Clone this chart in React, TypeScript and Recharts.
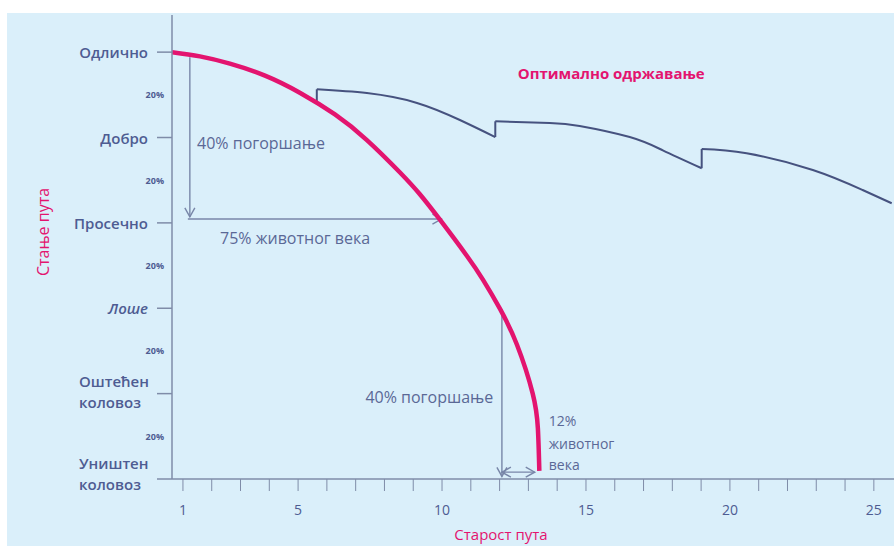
import React from 'react';
import { LineChart, Line, XAxis, YAxis, ReferenceLine, ReferenceDot } from 'recharts';

// ---------- data ----------
const ageTicks = [1, 2, 3, 4, 5, 6, 7, 8, 9, 10, 11, 12, 13, 14, 15, 16, 17, 18, 19, 20, 21, 22, 23, 24, 25];
const ageLabels = [1, 5, 10, 15, 20, 25];

const conditionValues = [0, 20, 40, 60, 80, 100];
const conditionNames = [
  ['Уништен', 'коловоз'],
  ['Оштећен', 'коловоз'],
  ['Лоше'],
  ['Просечно'],
  ['Добро'],
  ['Одлично'],
];
const stepValues = [10, 30, 50, 70, 90];
const stepLabel = '20%';

// condition without maintenance (x = age in years, y = condition %)
const noMaintenanceX = [0.62, 1.59, 2.63, 3.85, 5.06, 6.28, 7.39, 8.54, 9.23, 9.92, 10.86, 11.42, 12.01, 12.6, 13.15, 13.33, 13.38];
const noMaintenanceY = [100, 99.0, 97.3, 94.5, 90.5, 85.4, 79.4, 71.8, 66.7, 60.8, 52.3, 46.7, 39.9, 31.5, 20.0, 11.8, 1.9];

// optimal maintenance: three cycles, each starts with the jump (bottom, top) then decays
const cycle1X = [5.65, 5.65, 7.39, 9.13, 10.62, 11.85];
const cycle1Y = [88.3, 91.3, 90.4, 88.1, 84.1, 80.1];
const cycle2X = [11.85, 11.85, 13.74, 14.78, 16.52, 17.67, 19.02];
const cycle2Y = [80.1, 83.8, 83.4, 82.7, 80.1, 77.0, 72.8];
const cycle3X = [19.02, 19.02, 20.58, 22.88, 24.61, 25.62];
const cycle3Y = [72.8, 77.3, 76.3, 72.4, 67.7, 64.6];

// annotation arrows (data coordinates)
const arrowFrom = [[1.24, 98.8], [1.17, 60.9], [12.08, 39.8], [12.08, 1.6]];
const arrowTo = [[1.24, 61.4], [9.98, 60.9], [12.08, 0.6], [13.22, 1.6]];
const arrowBoth = [false, false, false, true];

// annotation texts (data coordinates)
const noteTexts = ['40% погоршање', '75% животног века', '40% погоршање', '12%', 'животног', 'века', 'Оптимално одржавање'];
const noteX = [1.49, 2.29, 11.78, 13.71, 13.71, 13.71, 12.63];
const noteY = [78.7, 56.4, 19.2, 13.8, 8.4, 3.3, 95.1];
const noteAnchor = ['start', 'start', 'end', 'start', 'start', 'start', 'start'];
const noteSize = [16, 16, 16, 14, 14, 14, 15];
const noteAccent = [false, false, false, false, false, false, true];

const yAxisTitle = 'Стање пута';
const xAxisTitle = 'Старост пута';

// ---------- styles ----------
const MAGENTA = '#e3146f';
const NAVY = '#46527f';
const LABEL = '#4e5c92';
const NOTE = '#5a6896';
const AXIS = '#7f8ca8';
const ARROW = '#7886a8';
const FONT = '"Open Sans", "Noto Sans", sans-serif';

const toPoints = (xs: number[], ys: number[]) => xs.map((x, i) => ({ x, y: ys[i] }));
const noMaintenance = toPoints(noMaintenanceX, noMaintenanceY);
const cycles = [toPoints(cycle1X, cycle1Y), toPoints(cycle2X, cycle2Y), toPoints(cycle3X, cycle3Y)];
const notes = noteTexts.map((t, i) => ({ t, x: noteX[i], y: noteY[i], anchor: noteAnchor[i], size: noteSize[i], accent: noteAccent[i] }));
const arrows = arrowFrom.map((f, i) => ({ from: f, to: arrowTo[i], both: arrowBoth[i] }));
const yTicks = [...conditionValues, ...stepValues].sort((a, b) => a - b);

const headPath = (tx: number, ty: number, a: number) => {
  const L = 9;
  const W = 5;
  const bx = tx - L * Math.cos(a);
  const by = ty - L * Math.sin(a);
  const px = -Math.sin(a) * W;
  const py = Math.cos(a) * W;
  return `M${bx + px},${by + py}L${tx},${ty}L${bx - px},${by - py}`;
};

const makeArrow = (both: boolean) => (p: any) => {
  const { x1, y1, x2, y2 } = p;
  const a = Math.atan2(y2 - y1, x2 - x1);
  return (
    <g>
      <line x1={x1} y1={y1} x2={x2} y2={y2} stroke={ARROW} strokeWidth={1.4} />
      <path d={headPath(x2, y2, a)} fill="none" stroke={ARROW} strokeWidth={1.4} />
      {both ? <path d={headPath(x1, y1, a + Math.PI)} fill="none" stroke={ARROW} strokeWidth={1.4} /> : null}
    </g>
  );
};

const YTick = (props: any) => {
  const { x, y, payload } = props;
  const v = payload.value;
  const idx = conditionValues.indexOf(v);
  if (idx < 0) {
    return (
      <text x={x - 8} y={y} textAnchor="end" dominantBaseline="central" fontSize={9} fontWeight={700} fill={LABEL} fontFamily={FONT}>
        {stepLabel}
      </text>
    );
  }
  const lines = conditionNames[idx];
  return (
    <g>
      <line x1={x - 15} y1={y} x2={x} y2={y} stroke={AXIS} strokeWidth={1.5} />
      {lines.length === 1 ? (
        <text x={x - 24} y={y} textAnchor="end" dominantBaseline="central" fontSize={15} fontWeight={600}
          fontStyle={v === 40 ? 'italic' : 'normal'} fill={LABEL} fontFamily={FONT}>
          {lines[0]}
        </text>
      ) : (
        <g>
          <text x={x - 93} y={y - (v === 0 ? 16 : 13)} textAnchor="start" dominantBaseline="central" fontSize={15} fontWeight={600} fill={LABEL} fontFamily={FONT}>
            {lines[0]}
          </text>
          <text x={x - 93} y={y + (v === 0 ? 5 : 8)} textAnchor="start" dominantBaseline="central" fontSize={15} fontWeight={600} fill={LABEL} fontFamily={FONT}>
            {lines[1]}
          </text>
        </g>
      )}
    </g>
  );
};

const XTick = (props: any) => {
  const { x, y, payload } = props;
  if (!ageLabels.includes(payload.value)) return null;
  return (
    <text x={x} y={y + 22} textAnchor="middle" fontSize={14} fill={LABEL} fontFamily={FONT}>
      {payload.value}
    </text>
  );
};

export default function App() {
  return (
    <div style={{ position: 'absolute', left: 0, top: 0, width: 894, height: 546, overflow: 'hidden', background: '#ffffff' }}>
      <div style={{ position: 'absolute', left: 7, top: 13, width: 887, height: 533, background: '#daeffa' }} />
      <div style={{ position: 'absolute', left: 0, top: 0 }}>
        <LineChart width={894} height={546} margin={{ top: 15, right: 0, bottom: 0, left: 0 }}>
          <XAxis
            type="number"
            dataKey="x"
            domain={[0.62, 25.7]}
            allowDataOverflow
            ticks={ageTicks}
            interval={0}
            tickSize={12}
            tickMargin={2}
            height={67}
            stroke={AXIS}
            axisLine={{ stroke: AXIS, strokeWidth: 1.5 }}
            tickLine={{ stroke: AXIS, strokeWidth: 1 }}
            tick={<XTick />}
            label={{
              content: () => (
                <text x={501} y={540} textAnchor="middle" fontSize={15} fill={MAGENTA} fontFamily={FONT}>
                  {xAxisTitle}
                </text>
              ),
            }}
          />
          <YAxis
            type="number"
            dataKey="y"
            domain={[0, 108.7]}
            allowDataOverflow
            ticks={yTicks}
            interval={0}
            width={172}
            tickSize={0}
            tickMargin={0}
            tickLine={false}
            axisLine={{ stroke: AXIS, strokeWidth: 1.5 }}
            tick={<YTick />}
            label={{
              content: () => (
                <text x={43} y={232} transform="rotate(-90 43 232)" textAnchor="middle" dominantBaseline="central" fontSize={16} fill={MAGENTA} fontFamily={FONT}>
                  {yAxisTitle}
                </text>
              ),
            }}
          />
          {arrows.map((a, i) => (
            <ReferenceLine
              key={'a' + i}
              segment={[{ x: a.from[0], y: a.from[1] }, { x: a.to[0], y: a.to[1] }]}
              ifOverflow="visible"
              shape={makeArrow(a.both)}
            />
          ))}
          {cycles.map((c, i) => (
            <Line key={'j' + i} data={c.slice(0, 2)} dataKey="y" type="linear" stroke={NAVY} strokeWidth={2} dot={false} activeDot={false} isAnimationActive={false} />
          ))}
          {cycles.map((c, i) => (
            <Line key={'c' + i} data={c.slice(1)} dataKey="y" type="natural" stroke={NAVY} strokeWidth={2} dot={false} activeDot={false} isAnimationActive={false} />
          ))}
          <Line data={noMaintenance} dataKey="y" type="natural" stroke={MAGENTA} strokeWidth={4.5} dot={false} activeDot={false} isAnimationActive={false} />
          {notes.map((n, i) => (
            <ReferenceDot
              key={'n' + i}
              x={n.x}
              y={n.y}
              r={1}
              ifOverflow="visible"
              shape={(p: any) => (
                <text x={p.cx} y={p.cy} textAnchor={n.anchor} dominantBaseline="central" fontSize={n.size}
                  fontWeight={n.accent ? 700 : 400} fill={n.accent ? MAGENTA : NOTE} fontFamily={FONT}>
                  {n.t}
                </text>
              )}
            />
          ))}
        </LineChart>
      </div>
    </div>
  );
}
